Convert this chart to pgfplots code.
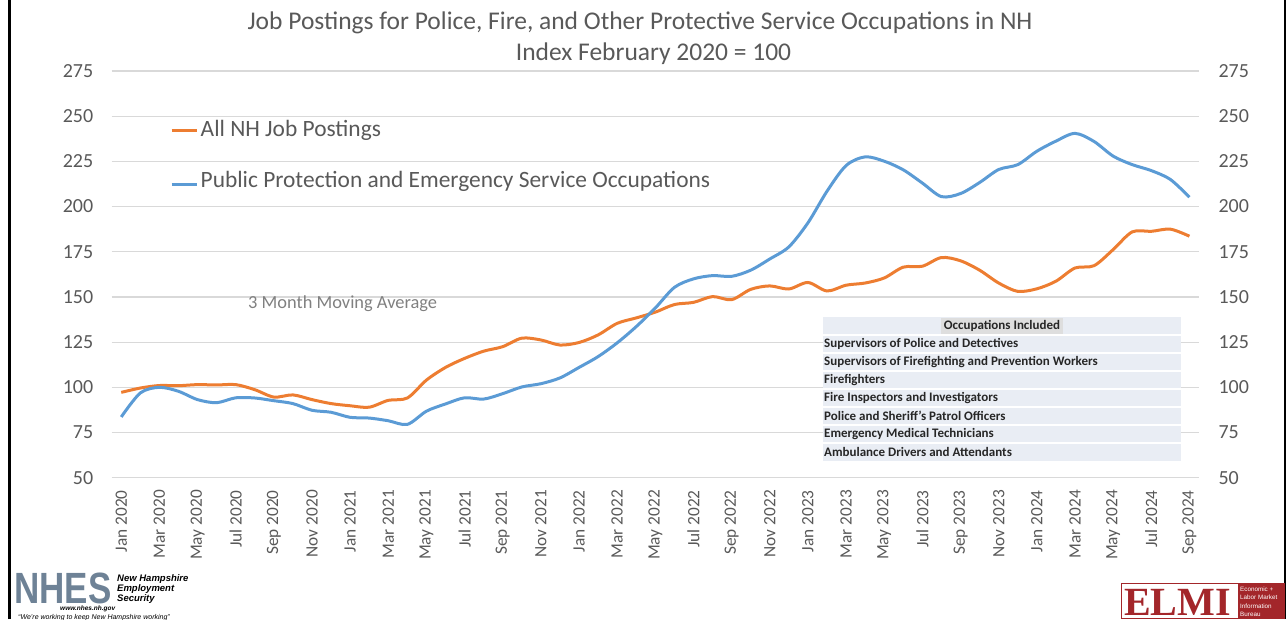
\documentclass[border=0pt]{standalone}
\usepackage{graphicx}
\usepackage{pgfplots}
\pgfplotsset{compat=1.18}
\usepackage{pgfplotstable}
\usepackage{fontspec}
\setmainfont{Carlito}
\newfontfamily\lib{Liberation Sans}
\newfontfamily\libserif{Liberation Serif}
\definecolor{orng}{HTML}{ED7D31}
\definecolor{blu}{HTML}{5B9BD5}
\definecolor{txt}{HTML}{595959}
\definecolor{gridc}{HTML}{D9D9D9}
\definecolor{tbl}{HTML}{E9EDF4}
\definecolor{elmi}{HTML}{A3262A}
\definecolor{nhes}{HTML}{6E8296}

\pgfplotstableread{
m o b
0 97.2 83.6
1 99.6 96.9
2 101.0 100.0
3 100.9 97.8
4 101.5 93.2
5 101.3 91.5
6 101.5 94.2
7 98.7 94.1
8 94.6 92.6
9 95.8 91.0
10 93.2 87.3
11 91.0 86.2
12 89.8 83.4
13 89.0 83.0
14 92.8 81.5
15 94.1 79.5
16 104.0 86.8
17 111.0 90.8
18 116.0 94.2
19 120.0 93.5
20 122.5 96.5
21 127.2 100.2
22 126.2 102.0
23 123.4 105.2
24 124.8 111.0
25 129.0 117.0
26 135.4 124.6
27 138.4 133.6
28 141.6 143.9
29 145.8 155.3
30 147.0 160.0
31 150.2 161.8
32 148.5 161.4
33 154.2 164.8
34 156.1 171.0
35 154.4 177.7
36 158.0 191.0
37 153.3 208.5
38 156.5 222.7
39 157.7 227.5
40 160.5 225.1
41 166.5 220.3
42 167.0 213.0
43 171.8 205.5
44 170.0 207.2
45 164.8 213.3
46 157.7 220.5
47 153.1 223.2
48 154.5 230.6
49 158.7 236.2
50 166.0 240.5
51 167.3 236.0
52 176.2 227.9
53 186.0 223.2
54 186.3 219.9
55 187.5 215.0
56 183.6 205.2
}\data

\begin{document}
\begin{tikzpicture}
\path[use as bounding box] (0pt,0pt) rectangle (1288pt,619pt);

% right-side tick labels axis
\begin{axis}[
  at={(111.7pt,141.3pt)}, anchor=south west,
  scale only axis, width=1087.3pt, height=406.7pt,
  xmin=-0.5, xmax=56.5, ymin=50, ymax=275,
  ytick={50,75,...,275}, xtick=\empty,
  axis line style={draw=none}, major tick length=0pt,
  yticklabel pos=right,
  yticklabel style={font=\fontsize{20}{22}\selectfont, color=txt, xshift=16pt},
  /pgf/number format/assume math mode=true,
]
\end{axis}

\begin{axis}[
  at={(111.7pt,141.3pt)}, anchor=south west,
  scale only axis, width=1087.3pt, height=406.7pt,
  xmin=-0.5, xmax=56.5, ymin=50, ymax=275,
  ytick={50,75,...,275},
  xtick={0,2,...,56},
  xticklabels={Jan 2020,Mar 2020,May 2020,Jul 2020,Sep 2020,Nov 2020,
    Jan 2021,Mar 2021,May 2021,Jul 2021,Sep 2021,Nov 2021,
    Jan 2022,Mar 2022,May 2022,Jul 2022,Sep 2022,Nov 2022,
    Jan 2023,Mar 2023,May 2023,Jul 2023,Sep 2023,Nov 2023,
    Jan 2024,Mar 2024,May 2024,Jul 2024,Sep 2024},
  axis line style={draw=none}, major tick length=0pt,
  ymajorgrids, grid style={gridc, line width=1.2pt},
  yticklabel style={font=\fontsize{20}{22}\selectfont, color=txt, xshift=-15pt},
  xticklabel style={font=\fontsize{17.3}{19}\selectfont, color=txt, yshift=-9pt, rotate=90, anchor=east},
  /pgf/number format/assume math mode=true,
  clip=false,
]
\addplot[orng, line width=3pt, smooth, tension=0.5] table[x=m, y=o] {\data};
\addplot[blu, line width=3pt, smooth, tension=0.5] table[x=m, y=b] {\data};
\end{axis}

\begin{scope}[x=1pt,y=1pt]
% frame lines
\draw[black, line width=2.5pt] (9.5,0) -- (9.5,619);
\draw[black, line width=2.5pt] (1285,0) -- (1285,619);

% title
\node[anchor=base, color=txt, font=\fontsize{25.5}{28}\selectfont] at (640,589.7) {Job Postings for Police, Fire, and Other Protective Service Occupations in NH};
\node[anchor=base, color=txt, font=\fontsize{25.5}{28}\selectfont] at (653.5,558.5) {Index February 2020 = 100};

% legend
\draw[orng, line width=3pt] (171.7,488) -- (196.7,488);
\node[anchor=base west, inner sep=0, color=txt, font=\fontsize{23.4}{26}\selectfont] at (200.5,482.3) {All NH Job Postings};
\draw[blu, line width=3pt] (171.7,434) -- (196.7,434);
\node[anchor=base west, inner sep=0, color=txt, font=\fontsize{23.4}{26}\selectfont] at (200.5,431.3) {Public Protection and Emergency Service Occupations};

% annotation
\node[anchor=base west, inner sep=0, color=black!50, font=\fontsize{18.4}{20}\selectfont] at (248,310.7) {3 Month Moving Average};

% table
\fill[tbl] (823,158) rectangle (1181,302);
\foreach \i in {1,...,7} {
  \draw[white, line width=1.5pt] (823,302-18*\i) -- (1181,302-18*\i);
}
\fill[black!13] (941,285) rectangle (1063,301);
\node[color=black!85, font=\bfseries\fontsize{13}{14}\selectfont, inner sep=0] at (1002,293) {Occupations Included};
\foreach \t [count=\i] in {Supervisors of Police and Detectives,
  Supervisors of Firefighting and Prevention Workers,
  Firefighters,
  Fire Inspectors and Investigators,
  Police and Sheriff's Patrol Officers,
  Emergency Medical Technicians,
  Ambulance Drivers and Attendants} {
  \node[anchor=west, inner sep=0, color=black!85, font=\bfseries\fontsize{13}{14}\selectfont] at (824,293-18*\i) {\t};
}

% NHES logo
\node[anchor=base west, inner sep=0, color=nhes, font=\lib\bfseries\fontsize{35}{35}\selectfont] at (14,16) {\scalebox{1}[1.25]{NHES}};
\node[anchor=base west, inner sep=0, font=\lib\bfseries\itshape\fontsize{9.5}{10}\selectfont] at (117,38) {New Hampshire};
\node[anchor=base west, inner sep=0, font=\lib\bfseries\itshape\fontsize{9.5}{10}\selectfont] at (117,28) {Employment};
\node[anchor=base west, inner sep=0, font=\lib\bfseries\itshape\fontsize{9.5}{10}\selectfont] at (117,18) {Security};
\node[anchor=base west, inner sep=0, font=\lib\bfseries\itshape\fontsize{6.5}{7}\selectfont] at (60,9) {www.nhes.nh.gov};
\node[anchor=base west, inner sep=0, font=\lib\itshape\fontsize{7}{8}\selectfont] at (18,0) {“We’re working to keep New Hampshire working”};

% ELMI logo
\draw[elmi, line width=1pt] (1121,0.5) rectangle (1284,36);
\fill[elmi] (1238,0.5) rectangle (1284,36);
\node[anchor=base west, inner sep=0, color=elmi, font=\libserif\bfseries\fontsize{40}{40}\selectfont] at (1124,4) {ELMI};
\node[anchor=base west, inner sep=0, color=white, font=\lib\fontsize{6.3}{7}\selectfont] at (1240,28) {Economic +};
\node[anchor=base west, inner sep=0, color=white, font=\lib\fontsize{6.3}{7}\selectfont] at (1240,19.5) {Labor Market};
\node[anchor=base west, inner sep=0, color=white, font=\lib\fontsize{6.3}{7}\selectfont] at (1240,11) {Information};
\node[anchor=base west, inner sep=0, color=white, font=\lib\fontsize{6.3}{7}\selectfont] at (1240,2.5) {Bureau};
\end{scope}
\end{tikzpicture}
\end{document}
